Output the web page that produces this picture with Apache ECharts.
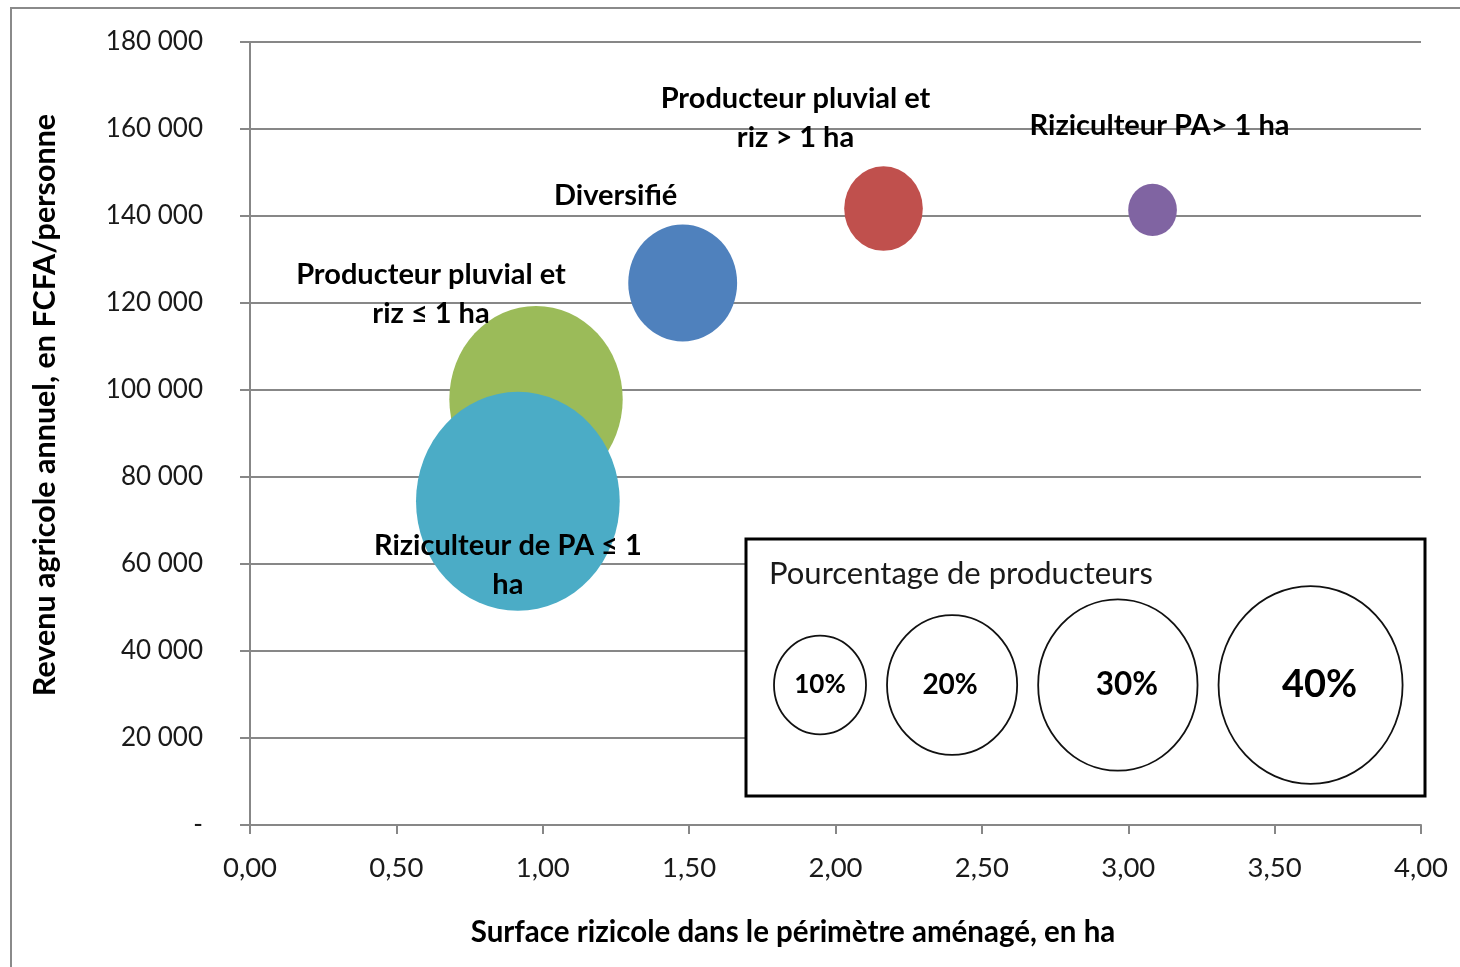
<!DOCTYPE html>
<html><head><meta charset="utf-8">
<script src="https://cdn.jsdelivr.net/npm/echarts@6/dist/echarts.min.js"></script>
<style>html,body{margin:0;padding:0;background:#fff}#c{width:1460px;height:967px}</style>
</head><body><div id="c"></div>
<script>
// ---- data ----
const groups = ['Producteur pluvial et\nriz ≤ 1 ha', 'Riziculteur de PA ≤ 1\nha', 'Diversifié', 'Producteur pluvial et\nriz > 1 ha', 'Riziculteur PA> 1 ha'];
const surface = [0.977, 0.915, 1.478, 2.164, 3.083];
const revenu = [97900, 74400, 124600, 141700, 141400];
const pctProducteurs = [35.5, 49, 14, 7.3, 2.8];
const legendPct = [10, 20, 30, 40];
const xTitle = 'Surface rizicole dans le périmètre aménagé, en ha';
const yTitle = 'Revenu agricole annuel, en FCFA/personne';
const legendTitle = 'Pourcentage de producteurs';

// ---- style ----
const colors = ['#9BBB59', '#4BACC6', '#4F81BD', '#C0504D', '#8064A2'];
const labelOffsets = [[-105, -105], [-10, 64], [-67, -87], [-88, -90], [7, -84]];
const FONT = 'Lato';
const GRID = '#878787';
const K = 29.1, ASPECT = 1.075;
const sizeOf = p => K * Math.sqrt(p);

const data = groups.map((g, i) => ({
  name: g,
  value: [surface[i], revenu[i], pctProducteurs[i]],
  itemStyle: { color: colors[i], opacity: 1 },
  label: { offset: labelOffsets[i] }
}));

// legend key graphics
const legendEls = [];
const L = { x: 746, y: 539, w: 679, h: 257 };
legendEls.push({ type: 'rect', shape: { x: L.x, y: L.y, width: L.w, height: L.h }, style: { fill: '#fff', stroke: '#000', lineWidth: 3 }, z: 50 });
legendEls.push({ type: 'text', x: 769, y: 574, z: 51, style: { text: legendTitle, fontFamily: FONT, fontSize: 31, fill: '#1a1a1a', verticalAlign: 'middle', align: 'left' } });
const lblFont = [26, 28, 31.5, 38];
const lblDx = [0, -2, 9, 9];
let cursor = 774;
legendPct.forEach((p, i) => {
  const w = sizeOf(p), h = w * ASPECT;
  const cx = cursor + w / 2, cy = 685;
  legendEls.push({ type: 'ellipse', shape: { cx: cx, cy: cy, rx: w / 2, ry: h / 2 }, style: { fill: 'none', stroke: '#111', lineWidth: 1.8 }, z: 51 });
  legendEls.push({ type: 'text', x: cx + lblDx[i], y: cy, z: 52, style: { text: p + '%', fontFamily: FONT, fontWeight: 'bold', fontSize: lblFont[i], fill: '#000', align: 'center', verticalAlign: 'middle' } });
  cursor += w + 21;
});

const chart = echarts.init(document.getElementById('c'), null, { renderer: 'canvas' });
chart.setOption({
  animation: false,
  backgroundColor: '#fff',
  grid: { left: 250, right: 39, top: 42, bottom: 142 },
  xAxis: {
    type: 'value', min: 0, max: 4, interval: 0.5,
    axisLine: { show: true, lineStyle: { color: GRID, width: 2 } },
    axisTick: { show: true, length: 9, lineStyle: { color: GRID, width: 2 } },
    splitLine: { show: false },
    axisLabel: { margin: 29, fontFamily: FONT, fontSize: 27.5, color: '#1a1a1a', formatter: v => v.toFixed(2).replace('.', ',') }
  },
  yAxis: {
    type: 'value', min: 0, max: 180000, interval: 20000,
    axisLine: { show: true, lineStyle: { color: GRID, width: 2 } },
    axisTick: { show: true, length: 10, lineStyle: { color: GRID, width: 2 } },
    splitLine: { show: true, lineStyle: { color: GRID, width: 2 } },
    axisLabel: { margin: 47, fontFamily: FONT, fontSize: 26, color: '#1a1a1a',
      formatter: v => v === 0 ? '-' : String(v).replace(/\B(?=(\d{3})+(?!\d))/g, ' ') }
  },
  series: [{
    type: 'scatter',
    data: data,
    symbol: 'circle',
    itemStyle: { opacity: 1 },
    symbolSize: v => { const w = sizeOf(v[2]); return [w, w * ASPECT]; },
    label: { show: true, position: 'inside', formatter: p => p.name, fontFamily: FONT, fontWeight: 'bold', fontSize: 29, lineHeight: 39, color: '#000', textBorderWidth: 0, align: 'center' },
    emphasis: { disabled: true }
  }],
  graphic: [
    { type: 'rect', shape: { x: 11, y: 8, width: 1600, height: 1100 }, style: { fill: 'none', stroke: '#8a8a8a', lineWidth: 2 }, z: 0 },
    { type: 'text', x: 45, y: 405, rotation: Math.PI / 2, style: { text: yTitle, fontFamily: FONT, fontWeight: 'bold', fontSize: 30.5, fill: '#000', align: 'center', verticalAlign: 'middle' } },
    { type: 'text', x: 793, y: 932, style: { text: xTitle, fontFamily: FONT, fontWeight: 'bold', fontSize: 29.5, fill: '#000', align: 'center', verticalAlign: 'middle' } }
  ].concat(legendEls)
});
</script></body></html>
